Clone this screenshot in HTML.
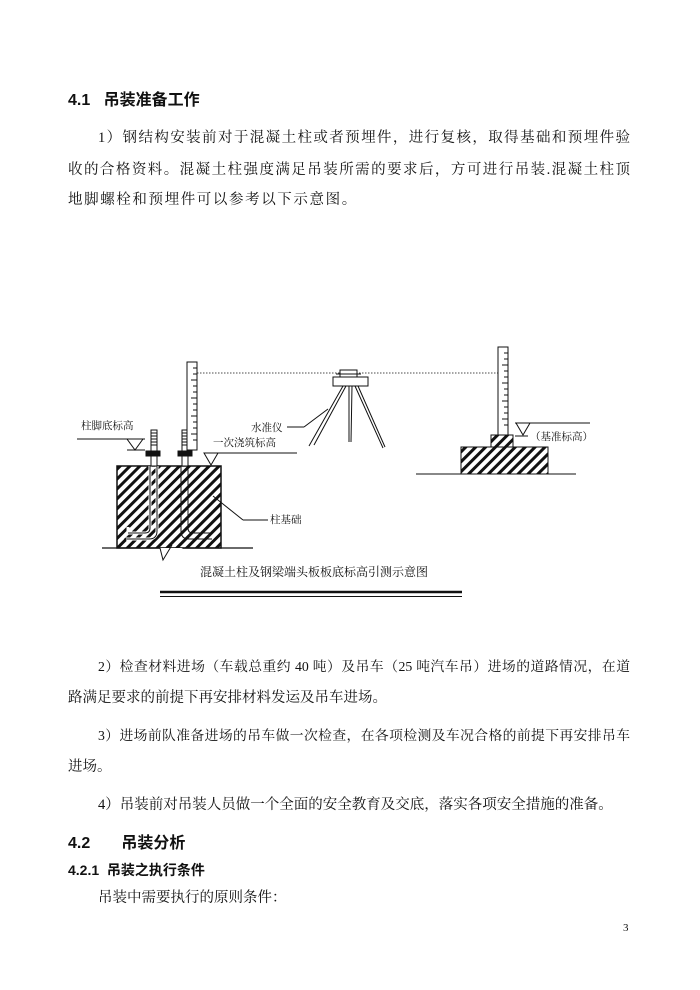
<!DOCTYPE html>
<html><head><meta charset="utf-8"><style>
body{margin:0;background:#fff}
#p{position:relative;width:700px;height:990px;background:#fff;font-family:"Liberation Serif","Noto Serif CJK SC",serif;color:#111;overflow:hidden}
.l{position:absolute;font-size:14.5px;line-height:20px;white-space:nowrap}
.j{text-align:justify;text-align-last:justify;white-space:normal}
.h{position:absolute;font-family:"Liberation Sans","Noto Sans CJK SC",sans-serif;font-weight:bold;white-space:nowrap}
</style></head><body><div id="p">
<div class="h" style="left:68px;top:86px;font-size:16px">4.1&nbsp;&nbsp;&nbsp;吊装准备工作</div>
<div class="l j" style="left:98px;top:128px;width:532px">1）钢结构安装前对于混凝土柱或者预埋件，进行复核，取得基础和预埋件验</div>
<div class="l j" style="left:68px;top:160px;width:562px">收的合格资料。混凝土柱强度满足吊装所需的要求后，方可进行吊装.混凝土柱顶</div>
<div class="l" style="left:68px;top:190px;letter-spacing:1.6px">地脚螺栓和预埋件可以参考以下示意图。</div>

<svg style="position:absolute;left:0;top:0" width="700" height="990">
<defs><pattern id="ht" width="7" height="7" patternUnits="userSpaceOnUse" patternTransform="rotate(45)"><rect width="7" height="7" fill="#fff"/><rect x="0" width="3" height="7" fill="#111"/></pattern></defs>
<g stroke="#111" fill="none" stroke-width="1">
<rect x="117" y="466" width="104" height="82" fill="url(#ht)" stroke-width="1.5"/>
<line x1="102" y1="548" x2="253" y2="548" stroke-width="1.2"/>
<polygon points="160,548 183,548 163,560" fill="#fff" stroke="none"/>
<polyline points="160,548 163,560 172,545" stroke-width="1"/>
<path d="M150,466 V528 Q150,533 145,533 H128 V527 M157,466 V530 Q157,539 148,539 H126" stroke="#fff" stroke-width="3"/>
<path d="M150,466 V528 Q150,533 145,533 H128 M157,466 V531 Q157,539 149,539 H124"/>
<path d="M181,466 V531 Q181,539 189,539 H212 M188,466 V528 Q188,533 193,533 H210"/>
<rect x="151" y="430" width="6" height="36" fill="#fff"/>
<rect x="182" y="430" width="6" height="36" fill="#fff"/>
<path d="M151,433h6M151,436h6M151,439h6M151,442h6M151,445h6M182,433h6M182,436h6M182,439h6M182,442h6M182,445h6"/>
<rect x="146" y="451" width="14" height="5" fill="#111"/>
<rect x="178" y="451" width="14" height="5" fill="#111"/>
<rect x="187" y="362" width="10" height="88" fill="#fff"/>
<path d="M193,368h4M193,374h4M191,380h6M193,386h4M193,392h4M191,398h6M193,404h4M193,410h4M191,416h6M193,422h4M193,428h4M191,434h6M193,440h4"/>
<line x1="197" y1="373" x2="499" y2="373" stroke-dasharray="1.5,1.5" stroke-width="0.8"/>
<line x1="77" y1="439" x2="145" y2="439"/>
<polygon points="127,439 143,439 135,450"/>
<line x1="127" y1="450" x2="145" y2="450"/>
<line x1="204" y1="453" x2="297" y2="453"/>
<polygon points="204,453 218,453 211,465"/>
<line x1="213" y1="496" x2="243" y2="520"/><line x1="243" y1="520" x2="268" y2="520"/>
<rect x="333" y="377" width="35" height="9" fill="#fff"/>
<rect x="340" y="370" width="17" height="7" fill="#fff"/>
<line x1="336" y1="374" x2="361" y2="374"/>
<path d="M343,386 L309,446 M346,386 L314,445 M349,386 L349,442 M352,386 L351,442 M355,386 L383,448 M358,386 L385,447"/>
<line x1="287" y1="427" x2="304" y2="427"/><line x1="304" y1="427" x2="328" y2="409"/>
<rect x="498" y="347" width="10" height="88" fill="#fff"/>
<path d="M504,353h4M504,359h4M502,365h6M504,371h4M504,377h4M502,383h6M504,389h4M504,395h4M502,401h6M504,407h4M504,413h4M502,419h6M504,425h4"/>
<rect x="491" y="435" width="22" height="12" fill="url(#ht)"/>
<rect x="461" y="447" width="87" height="27" fill="url(#ht)"/>
<line x1="416" y1="474" x2="576" y2="474"/>
<line x1="515" y1="423" x2="590" y2="423"/>
<polygon points="516,423 530,423 523,435"/>
<line x1="515" y1="436" x2="528" y2="436"/>
<line x1="160" y1="592" x2="462" y2="592" stroke-width="2.5"/>
<line x1="160" y1="596.5" x2="462" y2="596.5" stroke-width="1"/>
</g>
<g font-family="Liberation Serif,Noto Serif CJK SC,serif" font-size="10.5" fill="#111">
<text x="81" y="429">柱脚底标高</text>
<text x="213" y="446">一次浇筑标高</text>
<text x="251" y="431">水准仪</text>
<text x="270" y="523">柱基础</text>
<text x="530" y="440">（基准标高）</text>
<text x="200" y="576" font-size="12">混凝土柱及钢梁端头板板底标高引测示意图</text>
</g>
</svg>

<div class="l j" style="left:98px;top:657px;width:532px;font-size:13.8px">2）检查材料进场（车载总重约 40 吨）及吊车（25 吨汽车吊）进场的道路情况，在道</div>
<div class="l" style="left:68px;top:688px">路满足要求的前提下再安排材料发运及吊车进场。</div>
<div class="l j" style="left:98px;top:726px;width:532px;font-size:13.8px">3）进场前队准备进场的吊车做一次检查，在各项检测及车况合格的前提下再安排吊车</div>
<div class="l" style="left:68px;top:757px">进场。</div>
<div class="l" style="left:98px;top:795px">4）吊装前对吊装人员做一个全面的安全教育及交底，落实各项安全措施的准备。</div>
<div class="h" style="left:68px;top:829px;font-size:16px">4.2&nbsp;&nbsp;&nbsp;&nbsp;&nbsp;&nbsp;&nbsp;吊装分析</div>
<div class="h" style="left:68px;top:860px;font-size:14px">4.2.1&nbsp;&nbsp;吊装之执行条件</div>
<div class="l" style="left:98px;top:888px">吊装中需要执行的原则条件：</div>
<div class="l" style="left:623px;top:918px;font-size:11px">3</div>
</div></body></html>
